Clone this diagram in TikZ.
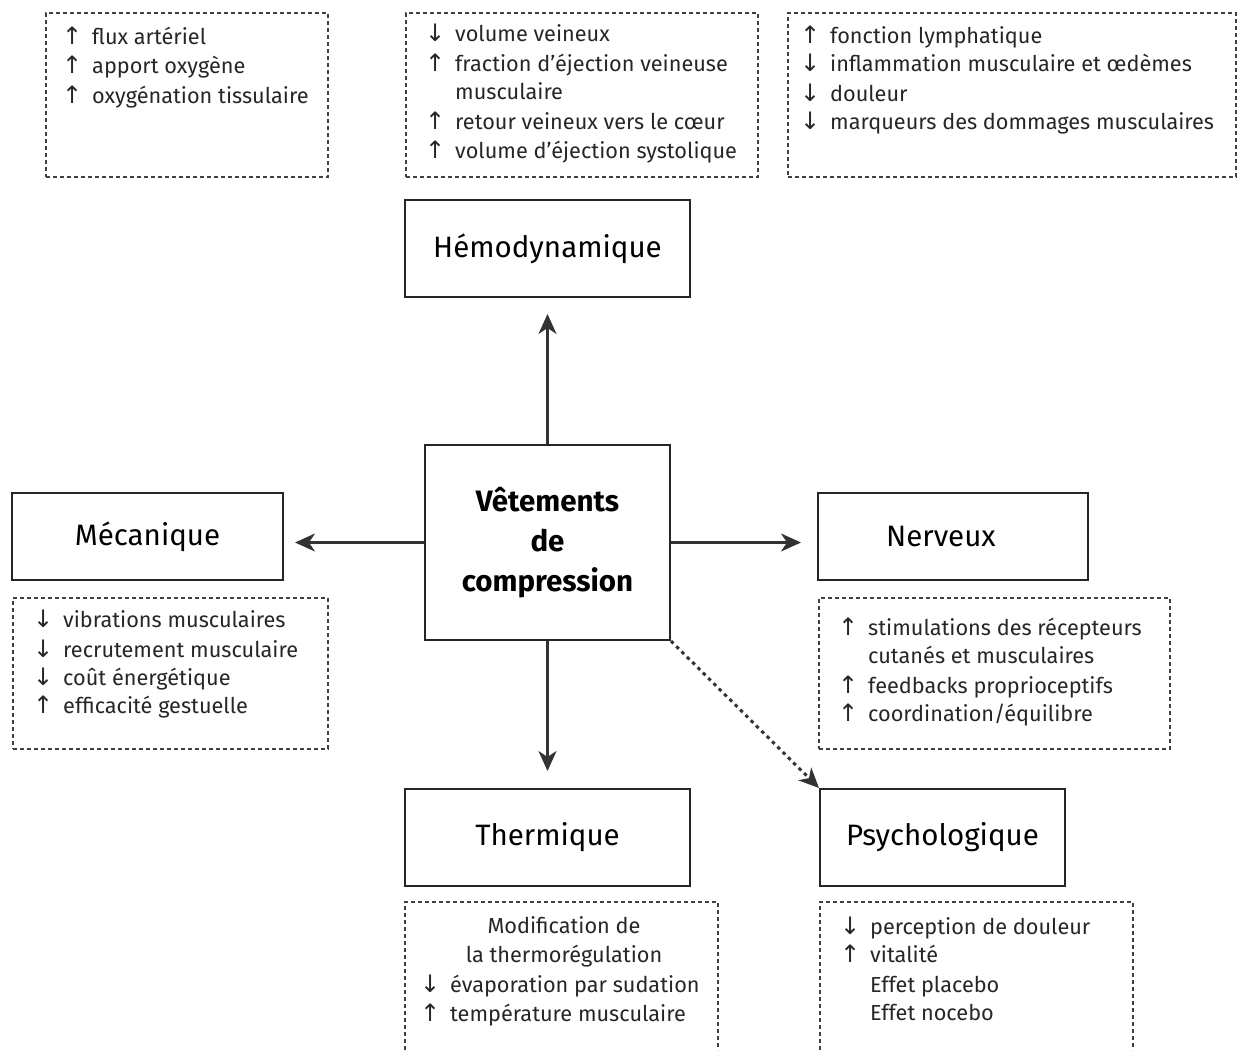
\documentclass[tikz,border=0pt]{standalone}
\usepackage{fontspec}
\setmainfont{Fira Sans}
\newfontfamily\arrfont{DejaVu Sans}
\usetikzlibrary{arrows.meta}
\newcommand\upa{\makebox[30pt][l]{\fontsize{24}{24}\arrfont\char"2191}}
\newcommand\dna{\makebox[30pt][l]{\fontsize{24}{24}\arrfont\char"2193}}
\newcommand\noa{\makebox[30pt][l]{}}
\begin{document}
\begin{tikzpicture}[x=1pt,y=-1pt,
  mainbox/.style={draw=black!85,line width=2pt,inner sep=0pt,font=\fontsize{29.5}{34}\selectfont},
  infobox/.style={draw=black!75,line width=1.5pt,dash pattern=on 4pt off 3pt},
  ln/.style={anchor=base west,inner sep=0pt,font=\fontsize{21.7}{26}\selectfont,text=black!85},
  cl/.style={anchor=base,inner sep=0pt,font=\fontsize{21.7}{26}\selectfont,text=black!85},
  conn/.style={line width=2.2pt,draw=black!80,-{Stealth[length=20pt,width=18pt,inset=6pt]}}]
\useasboundingbox (0,0) rectangle (1237,1050);
% main boxes
\node[mainbox,minimum width=285pt,minimum height=97pt] (hemo) at (547.5,248.5) {Hémodynamique};
\node[mainbox,minimum width=245pt,minimum height=195pt,align=center,font=\fontsize{29.5}{40}\bfseries\selectfont] (center) at (547.5,542.5) {Vêtements\\de\\compression};
\node[mainbox,minimum width=271pt,minimum height=87pt] (meca) at (147.5,536.5) {Mécanique};
\node[mainbox,minimum width=270pt,minimum height=87pt] (nerv) at (953,536.5) {\hspace*{-24pt}Nerveux};
\node[mainbox,minimum width=285pt,minimum height=97pt] (therm) at (547.5,837.5) {Thermique};
\node[mainbox,minimum width=245pt,minimum height=97pt] (psy) at (942.5,837.5) {Psychologique};
% connector end points
\coordinate (hemoT) at (547.5,314);
\coordinate (mecaT) at (295,542.5);
\coordinate (nervT) at (801,542.5);
\coordinate (thermT) at (547.5,771);
\draw[conn] (center.north) -- (hemoT);
\draw[conn] (center.west) -- (mecaT);
\draw[conn] (center.east) -- (nervT);
\draw[conn] (center.south) -- (thermT);
\draw[line width=3pt,draw=black!80,dash pattern=on 3.5pt off 4pt,-{Stealth[length=20pt,width=18pt,inset=6pt]}] (center.south east) -- (psy.north west);
% info boxes
\node[infobox,minimum width=282pt,minimum height=164pt,anchor=north west] (i1) at (45,12) {};
\node[infobox,minimum width=352pt,minimum height=164pt,anchor=north west] (i2) at (405,12) {};
\node[infobox,minimum width=448pt,minimum height=164pt,anchor=north west] (i3) at (787,12) {};
\node[infobox,minimum width=315pt,minimum height=151pt,anchor=north west] (i4) at (12,597) {};
\node[infobox,minimum width=351pt,minimum height=151pt,anchor=north west] (i5) at (818,597) {};
\draw[infobox] (405,1050) |- (718,902) -- (718,1050);
\draw[infobox] (820,1050) |- (1133,902) -- (1133,1050);
% texts
\node[ln] at (62,44) {\upa flux artériel};
\node[ln] at (62,73) {\upa apport oxygène};
\node[ln] at (62,103) {\upa oxygénation tissulaire};
\node[ln] at (425,41) {\dna volume veineux};
\node[ln] at (425,71) {\upa fraction d’éjection veineuse};
\node[ln] at (425,99) {\noa musculaire};
\node[ln] at (425,129) {\upa retour veineux vers le cœur};
\node[ln] at (425,158) {\upa volume d’éjection systolique};
\node[ln] at (800,43) {\upa fonction lymphatique};
\node[ln] at (800,71) {\dna inflammation musculaire et œdèmes};
\node[ln] at (800,101) {\dna douleur};
\node[ln] at (800,129) {\dna marqueurs des dommages musculaires};
\node[ln] at (33,627) {\dna vibrations musculaires};
\node[ln] at (33,657) {\dna recrutement musculaire};
\node[ln] at (33,685) {\dna coût énergétique};
\node[ln] at (33,713) {\upa efficacité gestuelle};
\node[ln] at (838,635) {\upa stimulations des récepteurs};
\node[ln] at (838,663) {\noa cutanés et musculaires};
\node[ln] at (838,693) {\upa feedbacks proprioceptifs};
\node[ln] at (838,721) {\upa coordination/équilibre};
\node[cl] at (564,933) {Modification de};
\node[cl] at (564,962) {la thermorégulation};
\node[ln] at (420,992) {\dna évaporation par sudation};
\node[ln] at (420,1021) {\upa température musculaire};
\node[ln] at (840,934) {\dna perception de douleur};
\node[ln] at (840,962) {\upa vitalité};
\node[ln] at (840,992) {\noa Effet placebo};
\node[ln] at (840,1020) {\noa Effet nocebo};
\end{tikzpicture}
\end{document}
